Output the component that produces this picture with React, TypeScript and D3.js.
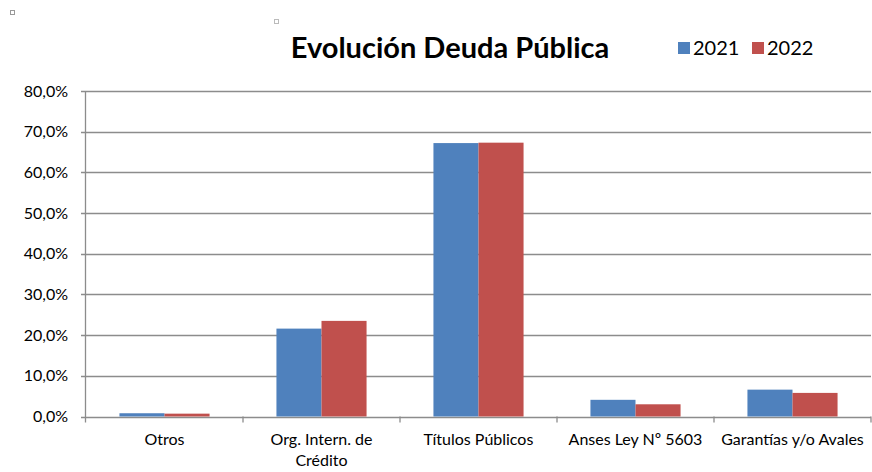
import React from 'react';
import * as d3 from 'd3';

const categories = ['Otros', 'Org. Intern. de Crédito', 'Títulos Públicos', 'Anses Ley Nº 5603', 'Garantías y/o Avales'];
const categoryLines = [['Otros'], ['Org. Intern. de', 'Crédito'], ['Títulos Públicos'], ['Anses Ley Nº 5603'], ['Garantías y/o Avales']];
const seriesNames = ['2021', '2022'];
const values2021 = [0.8, 21.6, 67.2, 4.1, 6.6];
const values2022 = [0.7, 23.5, 67.3, 3.0, 5.8];
const yTicks = [0, 10, 20, 30, 40, 50, 60, 70, 80];
const colors = ['#4f81bd', '#c0504d'];

const font = 'Lato, "Open Sans", sans-serif';

export default function App() {
  const width = 872;
  const height = 472;
  const left = 86;
  const right = 871;
  const top = 91;
  const bottom = 416.5;

  const x = d3.scaleBand<string>().domain(categories).range([left, right]).padding(0);
  const y = d3.scaleLinear().domain([0, 80]).range([bottom, top]);
  const bw = x.bandwidth();
  const gap = bw * 0.213;
  const sub = d3.scaleBand<string>().domain(seriesNames).range([gap, bw - gap]).padding(0);
  const series = [values2021, values2022];

  return (
    <svg width={width} height={height} style={{ position: 'absolute', left: 0, top: 0, background: '#fff' }}>
      <rect x={10.5} y={10.5} width={4} height={4} fill="none" stroke="#999" strokeWidth={1} />
      <rect x={274.5} y={19.5} width={4} height={4} fill="none" stroke="#bbb" strokeWidth={1} />

      <text x={450} y={58} textAnchor="middle" fontFamily={font} fontWeight="bold" fontSize={29} fill="#000">
        Evolución Deuda Pública
      </text>

      {seriesNames.map((s, i) => (
        <g key={s} transform={`translate(${678 + i * 74},0)`}>
          <rect x={0} y={42} width={12} height={12} fill={colors[i]} />
          <text x={15} y={55} fontFamily={font} fontSize={20} fill="#000">{s}</text>
        </g>
      ))}

      {yTicks.map(t => (
        <g key={t}>
          <line x1={left - 5} x2={right} y1={Math.round(y(t)) + 0.5} y2={Math.round(y(t)) + 0.5} stroke="#8c8c8c" strokeWidth={1.3} />
          <text x={68} y={y(t) + 5.5} textAnchor="end" fontFamily={font} fontSize={16} fill="#000">
            {d3.format('.1f')(t).replace('.', ',') + '%'}
          </text>
        </g>
      ))}

      {categories.map((c, ci) => (
        <g key={c}>
          {series.map((vals, si) => (
            <rect key={si}
              x={(x(c) as number) + (sub(seriesNames[si]) as number)}
              y={y(vals[ci])}
              width={sub.bandwidth()}
              height={bottom - y(vals[ci])}
              fill={colors[si]} />
          ))}
        </g>
      ))}

      <line x1={left - 0.5} x2={left - 0.5} y1={top} y2={bottom + 6} stroke="#8c8c8c" strokeWidth={1.3} />
      {categories.map(c => (
        <line key={c} x1={(x(c) as number) + bw} x2={(x(c) as number) + bw} y1={bottom} y2={bottom + 6} stroke="#8c8c8c" strokeWidth={1.3} />
      ))}

      {categories.map((c, ci) => (
        <text key={c} x={(x(c) as number) + bw / 2} textAnchor="middle" fontFamily={font} fontSize={16} fill="#000">
          {categoryLines[ci].map((l, li) => (
            <tspan key={li} x={(x(c) as number) + bw / 2} y={445 + li * 21}>{l}</tspan>
          ))}
        </text>
      ))}
    </svg>
  );
}
